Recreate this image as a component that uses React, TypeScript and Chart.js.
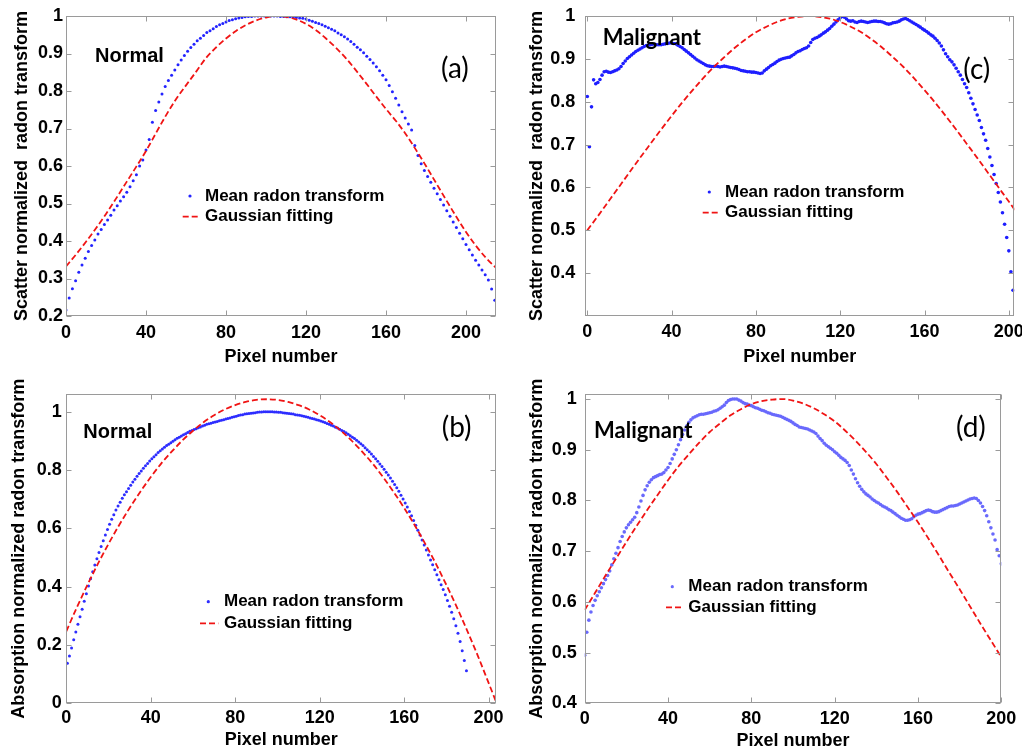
import React, { useEffect, useRef } from "react";
import { Chart, registerables } from "chart.js";

Chart.register(...registerables);

// ---------- data ----------
const X_TICKS = [0, 40, 80, 120, 160, 200];
const A_Y_TICKS = [0.2, 0.3, 0.4, 0.5, 0.6, 0.7, 0.8, 0.9, 1.0];
const B_Y_TICKS = [0, 0.2, 0.4, 0.6, 0.8, 1.0];
const C_Y_TICKS = [0.4, 0.5, 0.6, 0.7, 0.8, 0.9, 1.0];
const D_Y_TICKS = [0.4, 0.5, 0.6, 0.7, 0.8, 0.9, 1.0];

// (a) Scatter, Normal – mean radon transform (sampled every 1.6 px from 0)
const A_BLUE_START = 0;
const A_BLUE_STEP = 1.6;
const A_BLUE = [
  0.216, 0.248, 0.273, 0.294, 0.317, 0.336, 0.354, 0.372, 0.388, 0.403,
  0.419, 0.431, 0.444, 0.456, 0.469, 0.483, 0.494, 0.507, 0.518, 0.530,
  0.545, 0.561, 0.577, 0.600, 0.616, 0.643, 0.671, 0.717, 0.748, 0.771,
  0.792, 0.812, 0.828, 0.842, 0.856, 0.870, 0.883, 0.895, 0.906, 0.916,
  0.925, 0.934, 0.941, 0.948, 0.956, 0.961, 0.966, 0.972, 0.977, 0.980,
  0.984, 0.988, 0.990, 0.993, 0.995, 0.996, 0.998, 0.999, 0.999, 1.000,
  1.000, 1.000, 1.000, 1.000, 1.000, 1.000, 1.000, 0.999, 0.999, 0.998,
  0.998, 0.997, 0.996, 0.995, 0.994, 0.992, 0.989, 0.986, 0.983, 0.980,
  0.977, 0.973, 0.969, 0.965, 0.961, 0.955, 0.950, 0.945, 0.939, 0.932,
  0.925, 0.917, 0.910, 0.902, 0.893, 0.884, 0.875, 0.865, 0.854, 0.842,
  0.830, 0.815, 0.798, 0.781, 0.763, 0.745, 0.728, 0.712, 0.696, 0.655,
  0.628, 0.606, 0.588, 0.572, 0.557, 0.541, 0.526, 0.511, 0.496, 0.481,
  0.466, 0.451, 0.436, 0.421, 0.406, 0.391, 0.377, 0.363, 0.349, 0.336,
  0.323, 0.310, 0.296, 0.272, 0.242,
];
const A_RED_X = [
  0, 5, 10, 15, 20, 25, 30, 35, 40, 45, 50, 55, 60, 65, 70, 75, 80, 85, 90, 95, 100, 105,
  110, 115, 120, 125, 130, 135, 140, 145, 150, 155, 160, 165, 170, 175, 180, 185, 190, 195, 200, 205, 210, 215,
];
const A_RED = [
  0.332, 0.364, 0.398, 0.434, 0.472, 0.513, 0.555, 0.597, 0.640, 0.688, 0.735, 0.778, 0.815, 0.851,
  0.888, 0.916, 0.940, 0.960, 0.976, 0.988, 0.996, 1.000,
  0.998, 0.991, 0.979, 0.962, 0.940, 0.915, 0.887, 0.855, 0.821, 0.786, 0.752, 0.720, 0.684, 0.643,
  0.600, 0.555, 0.510, 0.466, 0.424, 0.387, 0.355, 0.328,
];

// (c) Scatter, Malignant
const C_BLUE_START = 0;
const C_BLUE_STEP = 1;
const C_BLUE = [
  0.812, 0.695, 0.788, 0.851, 0.842, 0.845, 0.852, 0.862, 0.870, 0.871,
  0.869, 0.868, 0.870, 0.872, 0.874, 0.877, 0.882, 0.889, 0.895, 0.901,
  0.905, 0.909, 0.913, 0.917, 0.920, 0.923, 0.926, 0.929, 0.931, 0.932,
  0.933, 0.934, 0.934, 0.933, 0.933, 0.933, 0.934, 0.935, 0.936, 0.937,
  0.937, 0.936, 0.935, 0.932, 0.929, 0.926, 0.922, 0.918, 0.914, 0.910,
  0.906, 0.902, 0.898, 0.895, 0.892, 0.889, 0.886, 0.884, 0.883, 0.882,
  0.882, 0.883, 0.882, 0.881, 0.882, 0.883, 0.882, 0.881, 0.880, 0.879,
  0.878, 0.877, 0.875, 0.873, 0.872, 0.871, 0.870, 0.870, 0.869, 0.869,
  0.868, 0.867, 0.866, 0.867, 0.872, 0.876, 0.880, 0.884, 0.887, 0.890,
  0.894, 0.897, 0.899, 0.901, 0.902, 0.903, 0.904, 0.907, 0.910, 0.914,
  0.917, 0.919, 0.922, 0.924, 0.926, 0.930, 0.938, 0.945, 0.948, 0.950,
  0.953, 0.956, 0.960, 0.963, 0.967, 0.971, 0.976, 0.981, 0.986, 0.991,
  0.996, 0.999, 0.997, 0.993, 0.989, 0.988, 0.989, 0.986, 0.985, 0.987,
  0.988, 0.987, 0.986, 0.985, 0.986, 0.987, 0.988, 0.988, 0.987, 0.987,
  0.986, 0.984, 0.982, 0.981, 0.982, 0.984, 0.985, 0.986, 0.988, 0.991,
  0.993, 0.994, 0.992, 0.989, 0.986, 0.983, 0.980, 0.977, 0.974, 0.970,
  0.967, 0.964, 0.960, 0.956, 0.953, 0.948, 0.943, 0.937, 0.930, 0.921,
  0.912, 0.905, 0.898, 0.893, 0.886, 0.878, 0.870, 0.862, 0.852, 0.842,
  0.833, 0.821, 0.808, 0.795, 0.782, 0.769, 0.756, 0.740, 0.725, 0.710,
  0.691, 0.671, 0.651, 0.630, 0.609, 0.588, 0.566, 0.541, 0.514, 0.483,
  0.452, 0.403, 0.360,
];
const C_RED_X = [
  0, 5, 10, 15, 20, 25, 30, 35, 40, 45, 50, 55, 60, 65, 70, 75, 80, 85, 90, 95, 100,
  105, 110, 115, 120, 125, 130, 135, 140, 145, 150, 155, 160, 165, 170, 175, 180, 185, 190, 195, 200, 205,
];
const C_RED = [
  0.500, 0.533, 0.567, 0.601, 0.635, 0.669, 0.702, 0.735, 0.767, 0.798, 0.827, 0.855, 0.881, 0.904,
  0.926, 0.945, 0.962, 0.975, 0.986, 0.994, 0.998, 1.000, 0.998, 0.994, 0.986, 0.975, 0.962, 0.945,
  0.926, 0.904, 0.881, 0.855, 0.827, 0.798, 0.767, 0.735, 0.702, 0.669, 0.635, 0.601, 0.567, 0.533,
];

// (b) Absorption, Normal
const B_BLUE_START = 0.5;
const B_BLUE_STEP = 1;
const B_BLUE = [
  0.137, 0.162, 0.190, 0.218, 0.245, 0.271, 0.297, 0.323, 0.350, 0.376,
  0.402, 0.427, 0.451, 0.474, 0.496, 0.517, 0.538, 0.558, 0.577, 0.596,
  0.614, 0.631, 0.647, 0.663, 0.677, 0.690, 0.703, 0.715, 0.726, 0.737,
  0.748, 0.759, 0.769, 0.779, 0.788, 0.797, 0.806, 0.815, 0.823, 0.831,
  0.839, 0.846, 0.853, 0.860, 0.866, 0.872, 0.878, 0.884, 0.889, 0.894,
  0.899, 0.904, 0.909, 0.913, 0.917, 0.921, 0.925, 0.929, 0.933, 0.936,
  0.939, 0.942, 0.945, 0.948, 0.951, 0.954, 0.957, 0.959, 0.961, 0.963,
  0.965, 0.967, 0.969, 0.971, 0.973, 0.975, 0.977, 0.979, 0.981, 0.983,
  0.985, 0.987, 0.989, 0.990, 0.992, 0.993, 0.994, 0.995, 0.996, 0.997,
  0.998, 0.999, 0.999, 1.000, 1.000, 1.000, 1.000, 1.000, 0.999, 0.999,
  0.998, 0.998, 0.997, 0.996, 0.995, 0.994, 0.993, 0.992, 0.990, 0.989,
  0.988, 0.986, 0.985, 0.983, 0.981, 0.979, 0.977, 0.975, 0.973, 0.971,
  0.968, 0.966, 0.963, 0.960, 0.957, 0.954, 0.951, 0.947, 0.944, 0.940,
  0.936, 0.932, 0.928, 0.923, 0.918, 0.913, 0.908, 0.902, 0.896, 0.890,
  0.884, 0.877, 0.870, 0.863, 0.855, 0.847, 0.839, 0.830, 0.821, 0.812,
  0.803, 0.793, 0.783, 0.773, 0.762, 0.751, 0.739, 0.727, 0.714, 0.701,
  0.687, 0.673, 0.658, 0.643, 0.627, 0.611, 0.594, 0.577, 0.560, 0.543,
  0.526, 0.509, 0.492, 0.475, 0.458, 0.441, 0.424, 0.407, 0.390, 0.372,
  0.353, 0.333, 0.312, 0.290, 0.266, 0.240, 0.212, 0.180, 0.147, 0.112,
];
const B_RED_X = [
  0, 5, 10, 15, 20, 25, 30, 35, 40, 45, 50, 55, 60, 65, 70, 75, 80, 85, 90, 95, 100,
  105, 110, 115, 120, 125, 130, 135, 140, 145, 150, 155, 160, 165, 170, 175, 180, 185, 190, 195, 200, 203.5,
];
const B_RED = [
  0.247, 0.329, 0.406, 0.479, 0.547, 0.611, 0.670, 0.725, 0.776, 0.823, 0.864, 0.902, 0.935, 0.964,
  0.988, 1.008, 1.023, 1.034, 1.041, 1.043, 1.041, 1.034, 1.023, 1.008, 0.988, 0.964, 0.935, 0.902,
  0.864, 0.823, 0.776, 0.725, 0.670, 0.611, 0.547, 0.479, 0.406, 0.329, 0.247, 0.161, 0.070, 0.006,
];

// (d) Absorption, Malignant
const D_BLUE_START = 0;
const D_BLUE_STEP = 1;
const D_BLUE = [
  0.495, 0.540, 0.564, 0.580, 0.593, 0.603, 0.612, 0.620, 0.628, 0.636,
  0.644, 0.652, 0.661, 0.673, 0.685, 0.696, 0.707, 0.719, 0.729, 0.738,
  0.746, 0.752, 0.757, 0.762, 0.767, 0.776, 0.787, 0.799, 0.810, 0.821,
  0.829, 0.836, 0.841, 0.845, 0.847, 0.849, 0.851, 0.852, 0.855, 0.860,
  0.865, 0.873, 0.882, 0.891, 0.900, 0.910, 0.920, 0.930, 0.939, 0.947,
  0.954, 0.959, 0.963, 0.965, 0.967, 0.969, 0.970, 0.970, 0.971, 0.972,
  0.973, 0.974, 0.976, 0.977, 0.979, 0.982, 0.985, 0.988, 0.993, 0.997,
  0.999, 1.000, 1.000, 1.000, 0.998, 0.996, 0.993, 0.991, 0.990, 0.988,
  0.987, 0.985, 0.983, 0.982, 0.980, 0.978, 0.977, 0.975, 0.973, 0.972,
  0.970, 0.969, 0.968, 0.967, 0.966, 0.964, 0.962, 0.960, 0.958, 0.956,
  0.953, 0.950, 0.948, 0.945, 0.944, 0.943, 0.942, 0.941, 0.939, 0.937,
  0.935, 0.932, 0.927, 0.922, 0.918, 0.913, 0.909, 0.906, 0.903, 0.900,
  0.896, 0.893, 0.889, 0.885, 0.882, 0.879, 0.875, 0.869, 0.860, 0.852,
  0.843, 0.835, 0.828, 0.822, 0.817, 0.813, 0.810, 0.807, 0.803, 0.800,
  0.797, 0.795, 0.792, 0.789, 0.787, 0.785, 0.782, 0.780, 0.777, 0.774,
  0.771, 0.768, 0.765, 0.763, 0.761, 0.761, 0.762, 0.764, 0.768, 0.771,
  0.773, 0.774, 0.776, 0.778, 0.780, 0.781, 0.780, 0.778, 0.777, 0.777,
  0.778, 0.780, 0.782, 0.784, 0.786, 0.788, 0.789, 0.789, 0.790, 0.791,
  0.793, 0.795, 0.797, 0.799, 0.801, 0.803, 0.804, 0.805, 0.804, 0.800,
  0.795, 0.788, 0.780, 0.770, 0.758, 0.746, 0.734, 0.722, 0.703, 0.691,
  0.675,
];
const D_RED_X = [
  0, 5, 10, 15, 20, 25, 30, 35, 40, 45, 50, 55, 60, 65, 70, 75, 80, 85, 90, 95, 100,
  105, 110, 115, 120, 125, 130, 135, 140, 145, 150, 155, 160, 165, 170, 175, 180, 185, 190, 195, 200,
];
const D_RED = [
  0.584, 0.618, 0.652, 0.685, 0.718, 0.750, 0.781, 0.811, 0.840, 0.867, 0.891, 0.914, 0.935, 0.952,
  0.968, 0.980, 0.990, 0.996, 0.999, 1.000, 0.997, 0.991, 0.982, 0.970, 0.956, 0.938, 0.918, 0.896,
  0.872, 0.845, 0.817, 0.787, 0.757, 0.725, 0.692, 0.658, 0.625, 0.591, 0.557, 0.524, 0.491,
];

const LEGEND_BLUE = "Mean radon transform";
const LEGEND_RED = "Gaussian fitting";
const X_TITLE = "Pixel number";

// ---------- styles ----------
const ARIAL = '"Liberation Sans", Arial, Helvetica, sans-serif';
const CALIBRI = 'Lato, "Open Sans", sans-serif';
const RED = "rgb(240,20,20)";
const FRAME = "#9a9a9a";

interface PanelCfg {
  left: number; top: number; w: number; h: number;
  padTop: number; padRight: number; yWidth: number; xHeight: number;
  xMin: number; xMax: number; yMin: number; yMax: number;
  yTicks: number[];
  yTitle: string; yTitlePad: number; yTickPad: number; xTickPad: number; xTitlePad: number;
  blueStart: number; blueStep: number; blue: number[]; blueColor: string; blueRadius: number;
  redX: number[]; red: number[];
  name: string; nameX: number; nameY: number; nameFont: string;
  tag: string; tagX: number; tagY: number;
  dotX: number; dotY: number; textX: number; lineX1: number; lineX2: number; lineY: number;
}

const PANELS: PanelCfg[] = [
  {
    left: 0, top: 0, w: 511, h: 376, padTop: 16, padRight: 15, yWidth: 66, xHeight: 60,
    xMin: 0, xMax: 215, yMin: 0.2, yMax: 1, yTicks: A_Y_TICKS,
    yTitle: "Scatter normalized  radon transform", yTitlePad: 11.4, yTickPad: 3, xTickPad: 6, xTitlePad: 8.5,
    blueStart: A_BLUE_START, blueStep: A_BLUE_STEP, blue: A_BLUE, blueColor: "rgb(35,35,255)", blueRadius: 1.5,
    redX: A_RED_X, red: A_RED,
    name: "Normal", nameX: 95, nameY: 61.7, nameFont: `bold 20px ${ARIAL}`,
    tag: "(a)", tagX: 441, tagY: 68.5,
    dotX: 190, dotY: 196, textX: 205, lineX1: 182.7, lineX2: 200, lineY: 216.7,
  },
  {
    left: 511, top: 0, w: 511, h: 376, padTop: 16, padRight: 7.7, yWidth: 74.3, xHeight: 60,
    xMin: -0.95, xMax: 202.6, yMin: 0.3, yMax: 1, yTicks: C_Y_TICKS,
    yTitle: "Scatter normalized  radon transform", yTitlePad: 15.4, yTickPad: 10, xTickPad: 5.7, xTitlePad: 8.2,
    blueStart: C_BLUE_START, blueStep: C_BLUE_STEP, blue: C_BLUE, blueColor: "rgb(30,30,255)", blueRadius: 1.8,
    redX: C_RED_X, red: C_RED,
    name: "Malignant", nameX: 91.7, nameY: 44.5, nameFont: `bold 22px ${CALIBRI}`,
    tag: "(c)", tagX: 452.3, tagY: 70,
    dotX: 198.3, dotY: 192, textX: 214, lineX1: 191.7, lineX2: 207.3, lineY: 212.7,
  },
  {
    left: 0, top: 376, w: 511, h: 376, padTop: 18.3, padRight: 15, yWidth: 66.3, xHeight: 48.7,
    xMin: 0, xMax: 203.5, yMin: 0, yMax: 1.06, yTicks: B_Y_TICKS,
    yTitle: "Absorption normalized radon transform", yTitlePad: 8.4, yTickPad: 4.6, xTickPad: 3.9, xTitlePad: 1.2,
    blueStart: B_BLUE_START, blueStep: B_BLUE_STEP, blue: B_BLUE, blueColor: "rgb(45,45,255)", blueRadius: 1.5,
    redX: B_RED_X, red: B_RED,
    name: "Normal", nameX: 83.3, nameY: 62.3, nameFont: `bold 20px ${ARIAL}`,
    tag: "(b)", tagX: 441.7, tagY: 52.3,
    dotX: 208.3, dotY: 225.7, textX: 224, lineX1: 200, lineX2: 218.3, lineY: 247.3,
  },
  {
    left: 511, top: 376, w: 511, h: 376, padTop: 18, padRight: 20.7, yWidth: 73.7, xHeight: 48.7,
    xMin: 0, xMax: 200, yMin: 0.4, yMax: 1.01, yTicks: D_Y_TICKS,
    yTitle: "Absorption normalized radon transform", yTitlePad: 15.4, yTickPad: 8, xTickPad: 4.9, xTitlePad: 0.2,
    blueStart: D_BLUE_START, blueStep: D_BLUE_STEP, blue: D_BLUE, blueColor: "rgb(105,105,252)", blueRadius: 1.8,
    redX: D_RED_X, red: D_RED,
    name: "Malignant", nameX: 83, nameY: 62.3, nameFont: `bold 22px ${CALIBRI}`,
    tag: "(d)", tagX: 445, tagY: 52.3,
    dotX: 161.3, dotY: 210.7, textX: 177.3, lineX1: 155, lineX2: 170.7, lineY: 231.3,
  },
];

const fmt = (v: number | string) => String(Number(Number(v).toFixed(2)));

function Panel({ cfg }: { cfg: PanelCfg }) {
  const ref = useRef<HTMLCanvasElement>(null);

  useEffect(() => {
    const canvas = ref.current;
    if (!canvas) return;
    const blueData = cfg.blue.map((y, i) => ({ x: cfg.blueStart + i * cfg.blueStep, y }));
    const redData = cfg.redX.map((x, i) => ({ x, y: cfg.red[i] }));

    const decor = {
      id: "decor",
      afterDatasetsDraw(chart: any) {
        const { ctx, chartArea: ca, scales } = chart;
        ctx.save();
        ctx.strokeStyle = FRAME;
        ctx.lineWidth = 1;
        const l = Math.round(ca.left) + 0.5, r = Math.round(ca.right) - 0.5;
        const t = Math.round(ca.top) + 0.5, b = Math.round(ca.bottom) - 0.5;
        ctx.strokeRect(l, t, r - l, b - t);
        const L = 5;
        ctx.beginPath();
        for (const tk of scales.x.ticks) {
          const px = Math.round(scales.x.getPixelForValue(tk.value)) + 0.5;
          ctx.moveTo(px, b); ctx.lineTo(px, b - L);
          ctx.moveTo(px, t); ctx.lineTo(px, t + L);
        }
        for (const tk of scales.y.ticks) {
          const py = Math.round(scales.y.getPixelForValue(tk.value)) + 0.5;
          ctx.moveTo(l, py); ctx.lineTo(l + L, py);
          ctx.moveTo(r, py); ctx.lineTo(r - L, py);
        }
        ctx.stroke();
        ctx.restore();
      },
      afterDraw(chart: any) {
        const ctx = chart.ctx;
        ctx.save();
        ctx.fillStyle = "#000";
        ctx.textAlign = "left";
        ctx.textBaseline = "alphabetic";
        ctx.font = cfg.nameFont;
        ctx.fillText(cfg.name, cfg.nameX, cfg.nameY);
        ctx.textBaseline = "middle";
        ctx.font = `28px ${CALIBRI}`;
        ctx.fillText(cfg.tag, cfg.tagX, cfg.tagY);
        // legend
        ctx.font = `bold 17px ${ARIAL}`;
        ctx.fillText(LEGEND_BLUE, cfg.textX, cfg.dotY);
        ctx.fillText(LEGEND_RED, cfg.textX, cfg.lineY);
        ctx.fillStyle = cfg.blueColor;
        ctx.beginPath();
        ctx.arc(cfg.dotX, cfg.dotY, 1.6, 0, Math.PI * 2);
        ctx.fill();
        ctx.strokeStyle = RED;
        ctx.lineWidth = 1.8;
        ctx.setLineDash([6, 3]);
        ctx.beginPath();
        ctx.moveTo(cfg.lineX1, cfg.lineY);
        ctx.lineTo(cfg.lineX2, cfg.lineY);
        ctx.stroke();
        ctx.restore();
      },
    };

    const tickFont = { family: ARIAL, size: 18, weight: "bold" as const };

    const chart = new Chart(canvas, {
      type: "scatter",
      data: {
        datasets: [
          {
            label: LEGEND_RED,
            data: redData,
            showLine: true,
            borderColor: RED,
            backgroundColor: RED,
            borderWidth: 1.8,
            borderDash: [6, 3],
            pointRadius: 0,
            cubicInterpolationMode: "monotone",
            fill: false,
          } as any,
          {
            label: LEGEND_BLUE,
            data: blueData,
            showLine: false,
            pointRadius: cfg.blueRadius,
            pointBorderWidth: 0,
            pointBackgroundColor: cfg.blueColor,
            backgroundColor: cfg.blueColor,
            borderColor: cfg.blueColor,
          } as any,
        ],
      },
      options: {
        responsive: false,
        animation: false,
        events: [],
        devicePixelRatio: 1,
        layout: { padding: { left: 0, top: cfg.padTop, right: cfg.padRight, bottom: 0 } },
        plugins: { legend: { display: false }, tooltip: { enabled: false } },
        scales: {
          x: {
            type: "linear",
            min: cfg.xMin,
            max: cfg.xMax,
            grid: { display: false, drawTicks: false },
            border: { display: false },
            afterBuildTicks: (s: any) => {
              s.ticks = X_TICKS.map((v) => ({ value: v }));
            },
            afterFit: (s: any) => {
              s.height = cfg.xHeight;
              s.paddingLeft = 0;
              s.paddingRight = 0;
            },
            ticks: {
              padding: cfg.xTickPad,
              font: tickFont,
              color: "#000",
              maxRotation: 0,
              autoSkip: false,
              callback: (v: any) => fmt(v),
            },
            title: {
              display: true,
              text: X_TITLE,
              color: "#000",
              font: { family: ARIAL, size: 18, weight: "bold" },
              padding: { top: 0, bottom: cfg.xTitlePad },
            },
          } as any,
          y: {
            type: "linear",
            min: cfg.yMin,
            max: cfg.yMax,
            grid: { display: false, drawTicks: false },
            border: { display: false },
            afterBuildTicks: (s: any) => {
              s.ticks = cfg.yTicks.map((v) => ({ value: v }));
            },
            afterFit: (s: any) => {
              s.width = cfg.yWidth;
              s.paddingTop = 0;
              s.paddingBottom = 0;
            },
            ticks: {
              padding: cfg.yTickPad,
              font: tickFont,
              color: "#000",
              autoSkip: false,
              callback: (v: any) => fmt(v),
            },
            title: {
              display: true,
              text: cfg.yTitle,
              color: "#000",
              font: { family: ARIAL, size: 18, weight: "bold" },
              padding: { top: cfg.yTitlePad, bottom: 0 },
            },
          } as any,
        },
      },
      plugins: [decor],
    });
    return () => chart.destroy();
  }, [cfg]);

  return (
    <div style={{ position: "absolute", left: cfg.left, top: cfg.top, width: cfg.w, height: cfg.h }}>
      <canvas ref={ref} width={cfg.w} height={cfg.h} style={{ display: "block" }} />
    </div>
  );
}

export default function App() {
  return (
    <div style={{ position: "absolute", left: 0, top: 0, width: 1022, height: 752, background: "#fff", overflow: "hidden" }}>
      {PANELS.map((p, i) => (
        <Panel key={i} cfg={p} />
      ))}
    </div>
  );
}
